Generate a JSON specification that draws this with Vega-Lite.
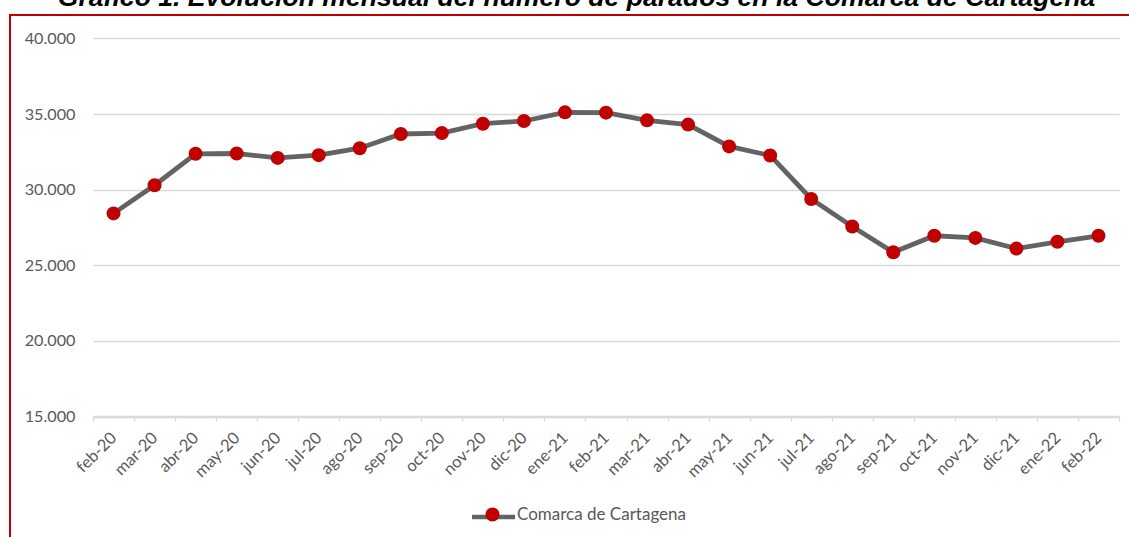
{
  "$schema": "https://vega.github.io/schema/vega-lite/v6.json",
  "autosize": "none",
  "padding": {"left": 10, "top": 15, "right": 0, "bottom": 0},
  "width": 1121,
  "height": 530,
  "background": "#ffffff",
  "title": {
    "text": "Gráfico 1. Evolución mensual del número de parados en la Comarca de Cartagena",
    "font": "Liberation Sans",
    "fontSize": 26.6,
    "fontWeight": "bold",
    "fontStyle": "italic",
    "color": "#000000",
    "anchor": "middle",
    "frame": "group",
    "baseline": "alphabetic",
    "offset": -18,
    "dx": 6
  },
  "data": {
    "values": [
      {"mes": "feb-20", "parados": 28430},
      {"mes": "mar-20", "parados": 30290},
      {"mes": "abr-20", "parados": 32370},
      {"mes": "may-20", "parados": 32390},
      {"mes": "jun-20", "parados": 32100},
      {"mes": "jul-20", "parados": 32280},
      {"mes": "ago-20", "parados": 32740},
      {"mes": "sep-20", "parados": 33680},
      {"mes": "oct-20", "parados": 33740},
      {"mes": "nov-20", "parados": 34360},
      {"mes": "dic-20", "parados": 34540},
      {"mes": "ene-21", "parados": 35110},
      {"mes": "feb-21", "parados": 35090},
      {"mes": "mar-21", "parados": 34580},
      {"mes": "abr-21", "parados": 34300},
      {"mes": "may-21", "parados": 32860},
      {"mes": "jun-21", "parados": 32260},
      {"mes": "jul-21", "parados": 29380},
      {"mes": "ago-21", "parados": 27560},
      {"mes": "sep-21", "parados": 25860},
      {"mes": "oct-21", "parados": 26950},
      {"mes": "nov-21", "parados": 26810},
      {"mes": "dic-21", "parados": 26100},
      {"mes": "ene-22", "parados": 26550},
      {"mes": "feb-22", "parados": 26950}
    ]
  },
  "encoding": {
    "x": {
      "field": "mes",
      "type": "nominal",
      "sort": null,
      "scale": {"type": "band", "range": [83, 1109], "paddingInner": 0, "paddingOuter": 0},
      "axis": {
        "title": null,
        "orient": "bottom",
        "offset": -129,
        "labelAngle": -45,
        "labelAlign": "right",
        "labelBaseline": "middle",
        "labelFont": "Lato",
        "labelFontSize": 16.5,
        "labelColor": "#595959",
        "labelPadding": 14,
        "labelOverlap": false,
        "tickBand": "extent",
        "tickColor": "#d9d9d9",
        "tickWidth": 1.3,
        "tickSize": 5,
        "domainColor": "#d9d9d9",
        "domainWidth": 1.3,
        "grid": false
      }
    },
    "y": {
      "field": "parados",
      "type": "quantitative",
      "scale": {"domain": [15000, 40000], "range": [401.5, 23.4], "nice": false, "zero": false},
      "axis": {
        "title": null,
        "orient": "left",
        "offset": -83,
        "values": [15000, 20000, 25000, 30000, 35000, 40000],
        "labelExpr": "replace(format(datum.value, ','), ',', '.')",
        "labelFont": "Lato",
        "labelFontSize": 16.2,
        "labelColor": "#595959",
        "labelPadding": 18,
        "ticks": false,
        "tickSize": 0,
        "domain": false,
        "grid": true,
        "gridColor": "#d9d9d9",
        "gridWidth": 1.3
      }
    }
  },
  "layer": [
    {
      "mark": {"type": "line", "strokeWidth": 4.8, "strokeCap": "round"},
      "encoding": {
        "stroke": {
          "datum": "linea",
          "scale": {"range": ["#636363"]},
          "legend": {
            "orient": "none",
            "legendX": 459.5,
            "legendY": 478,
            "title": null,
            "padding": 0,
            "symbolType": "stroke",
            "symbolSize": 1849,
            "symbolStrokeWidth": 4.5,
            "labelExpr": "''",
            "labelFontSize": 17,
            "zindex": 0
          }
        }
      }
    },
    {
      "mark": {"type": "point", "filled": true, "size": 196, "opacity": 1, "strokeWidth": 0},
      "encoding": {
        "fill": {
          "datum": "Comarca de Cartagena",
          "scale": {"range": ["#C00000"]},
          "legend": {
            "orient": "none",
            "legendX": 474,
            "legendY": 491,
            "title": null,
            "padding": 0,
            "symbolType": "circle",
            "symbolSize": 196,
            "symbolStrokeWidth": 0,
            "symbolOpacity": 1,
            "labelOffset": 16,
            "labelLimit": 400,
            "labelFont": "Lato",
            "labelFontSize": 17,
            "labelColor": "#595959",
            "zindex": 1
          }
        }
      }
    }
  ],
  "config": {
    "view": {"stroke": "#C00000", "strokeWidth": 2}
  }
}
